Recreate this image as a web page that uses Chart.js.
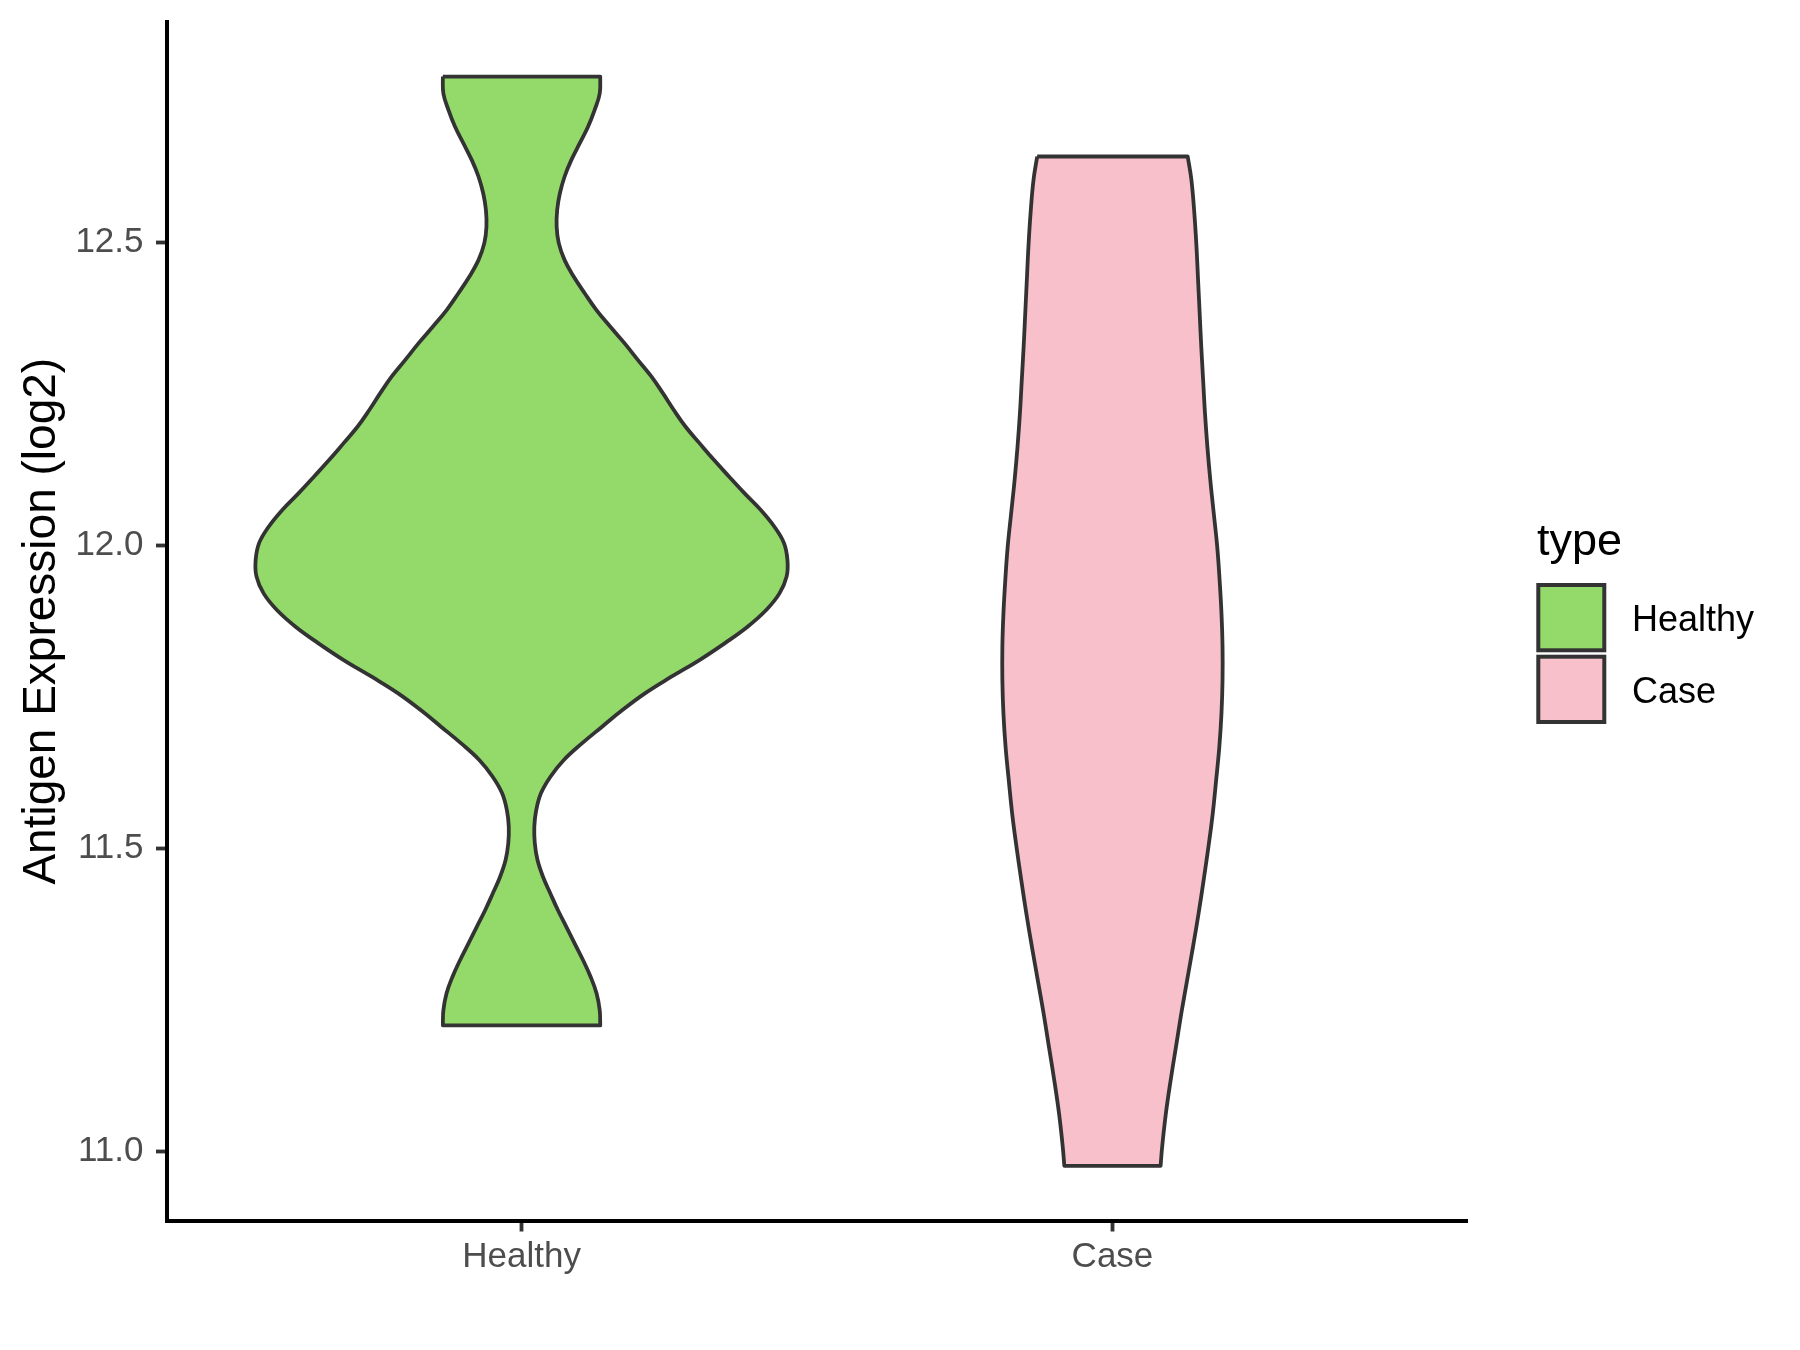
<!DOCTYPE html>
<html>
<head>
<meta charset="utf-8">
<script src="https://cdn.jsdelivr.net/npm/chart.js@4.4.1/dist/chart.umd.min.js"></script>
<style>
    html, body { margin: 0; padding: 0; background: #fff; }
</style>
</head>
<body>
<canvas id="myChart" width="1800" height="1350"></canvas>
<script>
// categories on the x axis
const categories = ['Healthy', 'Case'];
const fill_colors = ['#93DA6A', '#F7C0CB'];

// y axis ticks (log2 expression)
const y_ticks = [11.0, 11.5, 12.0, 12.5];

// Healthy violin: expression level and relative density (1 = widest)
const healthy_levels = [
    12.774, 12.746, 12.719, 12.691, 12.664, 12.636, 12.609, 12.581, 12.554, 12.526,
    12.499, 12.471, 12.444, 12.416, 12.389, 12.361, 12.334, 12.306, 12.279, 12.251,
    12.224, 12.196, 12.169, 12.141, 12.114, 12.086, 12.059, 12.031, 12.004, 11.976,
    11.949, 11.921, 11.894, 11.866, 11.839, 11.811, 11.783, 11.756, 11.728, 11.701,
    11.673, 11.646, 11.618, 11.591, 11.563, 11.536, 11.508, 11.481, 11.453, 11.426,
    11.398, 11.371, 11.343, 11.316, 11.288, 11.261, 11.233, 11.208
];
const healthy_density = [
    0.296, 0.294, 0.275, 0.250, 0.219, 0.187, 0.162, 0.144, 0.134, 0.132,
    0.140, 0.162, 0.196, 0.238, 0.281, 0.334, 0.387, 0.438, 0.488, 0.532,
    0.572, 0.617, 0.669, 0.724, 0.780, 0.839, 0.899, 0.951, 0.987, 1.000,
    0.997, 0.970, 0.921, 0.850, 0.765, 0.669, 0.562, 0.464, 0.378, 0.303,
    0.226, 0.159, 0.108, 0.073, 0.055, 0.048, 0.050, 0.060, 0.081, 0.108,
    0.137, 0.168, 0.200, 0.231, 0.260, 0.282, 0.294, 0.296
];

// Case violin
const case_levels = [
    12.642, 12.603, 12.548, 12.493, 12.438, 12.383, 12.328, 12.273, 12.218, 12.163,
    12.108, 12.053, 11.998, 11.943, 11.888, 11.833, 11.778, 11.723, 11.668, 11.613,
    11.557, 11.503, 11.448, 11.393, 11.338, 11.283, 11.228, 11.173, 11.118, 11.063,
    11.008, 10.976
];
const case_density = [
    0.283, 0.297, 0.308, 0.316, 0.322, 0.328, 0.334, 0.341, 0.348, 0.357,
    0.368, 0.381, 0.394, 0.403, 0.410, 0.414, 0.414, 0.410, 0.402, 0.390,
    0.377, 0.361, 0.343, 0.324, 0.303, 0.281, 0.259, 0.239, 0.219, 0.201,
    0.187, 0.181
];

const MAX_HALF_WIDTH = 0.45;   // ggplot violin width 0.9
const FONT = '"Liberation Sans", Arial, sans-serif';

Chart.defaults.font.family = FONT;

// outline: down the left side, up the right side, back to the start.
// corner points are repeated so the smoothed line keeps sharp flat ends
function violin_points(center, levels, density) {
    const pts = [];
    const n = levels.length;
    for (let i = 0; i < n; i++) {
        pts.push({x: center - density[i] * MAX_HALF_WIDTH, y: levels[i]});
    }
    pts.push(pts[n - 1]);
    const right_bottom = {x: center + density[n - 1] * MAX_HALF_WIDTH, y: levels[n - 1]};
    pts.push(right_bottom);
    for (let i = n - 1; i >= 0; i--) {
        pts.push({x: center + density[i] * MAX_HALF_WIDTH, y: levels[i]});
    }
    pts.push(pts[pts.length - 1]);
    pts.push(pts[0]);
    return pts;
}

const violins = [
    violin_points(1, healthy_levels, healthy_density),
    violin_points(2, case_levels, case_density)
];

const datasets = categories.map(function (name, i) {
    return {
        label: name,
        data: violins[i],
        showLine: true,
        fill: 'shape',
        tension: 0.4,
        backgroundColor: fill_colors[i],
        borderColor: '#333333',
        borderWidth: 3.8,
        borderJoinStyle: 'round',
        pointRadius: 0,
        pointHitRadius: 0
    };
});

// legend drawn like the ggplot one on the right
const type_legend = {
    id: 'typeLegend',
    afterDraw(chart) {
        const ctx = chart.ctx;
        ctx.save();
        ctx.fillStyle = '#000000';
        ctx.font = '45px ' + FONT;
        ctx.textBaseline = 'alphabetic';
        ctx.textAlign = 'left';
        ctx.fillText('type', 1537, 555);
        chart.data.datasets.forEach(function (ds, i) {
            const top = 585 + i * 71.7;
            ctx.fillStyle = ds.backgroundColor;
            ctx.fillRect(1538.3, top, 66, 65.3);
            ctx.strokeStyle = '#333333';
            ctx.lineWidth = 4;
            ctx.strokeRect(1538.3, top, 66, 65.3);
            ctx.fillStyle = '#000000';
            ctx.font = '36px ' + FONT;
            ctx.textBaseline = 'middle';
            ctx.fillText(ds.label, 1632, top + 36);
        });
        ctx.restore();
    }
};

function no_padding(scale) {
    scale.paddingTop = 0;
    scale.paddingBottom = 0;
    scale.paddingLeft = 0;
    scale.paddingRight = 0;
}

const config = {
    type: 'scatter',
    data: {datasets: datasets},
    options: {
        responsive: false,
        animation: false,
        devicePixelRatio: 1,
        layout: {
            padding: {top: 22, right: 333, bottom: 0, left: 0}
        },
        plugins: {
            legend: {display: false},
            tooltip: {enabled: false}
        },
        scales: {
            x: {
                type: 'linear',
                min: 0.4,
                max: 2.6,
                afterBuildTicks: function (scale) {
                    scale.ticks = categories.map(function (c, i) { return {value: i + 1}; });
                },
                afterFit: function (scale) { scale.height = 129.5; no_padding(scale); },
                ticks: {
                    callback: function (value) { return categories[value - 1]; },
                    color: '#4D4D4D',
                    font: {size: 35},
                    padding: 5,
                    maxRotation: 0
                },
                grid: {
                    drawOnChartArea: false,
                    drawTicks: true,
                    tickLength: 11,
                    tickColor: '#333333',
                    tickWidth: 3.8
                },
                border: {display: true, color: '#000000', width: 4}
            },
            y: {
                type: 'linear',
                min: 10.886,
                max: 12.864,
                afterBuildTicks: function (scale) {
                    scale.ticks = y_ticks.map(function (v) { return {value: v}; });
                },
                afterFit: function (scale) { scale.width = 167; no_padding(scale); },
                ticks: {
                    callback: function (value) { return value.toFixed(1); },
                    color: '#4D4D4D',
                    font: {size: 35},
                    padding: 12.5
                },
                grid: {
                    drawOnChartArea: false,
                    drawTicks: true,
                    tickLength: 11,
                    tickColor: '#333333',
                    tickWidth: 3.8
                },
                border: {display: true, color: '#000000', width: 4},
                title: {
                    display: true,
                    text: 'Antigen Expression (log2)',
                    color: '#000000',
                    font: {size: 46},
                    padding: {top: 15, bottom: 0}
                }
            }
        }
    },
    plugins: [type_legend]
};

var ctx = document.getElementById('myChart').getContext('2d');
var myChart = new Chart(ctx, config);
</script>
</body>
</html>
